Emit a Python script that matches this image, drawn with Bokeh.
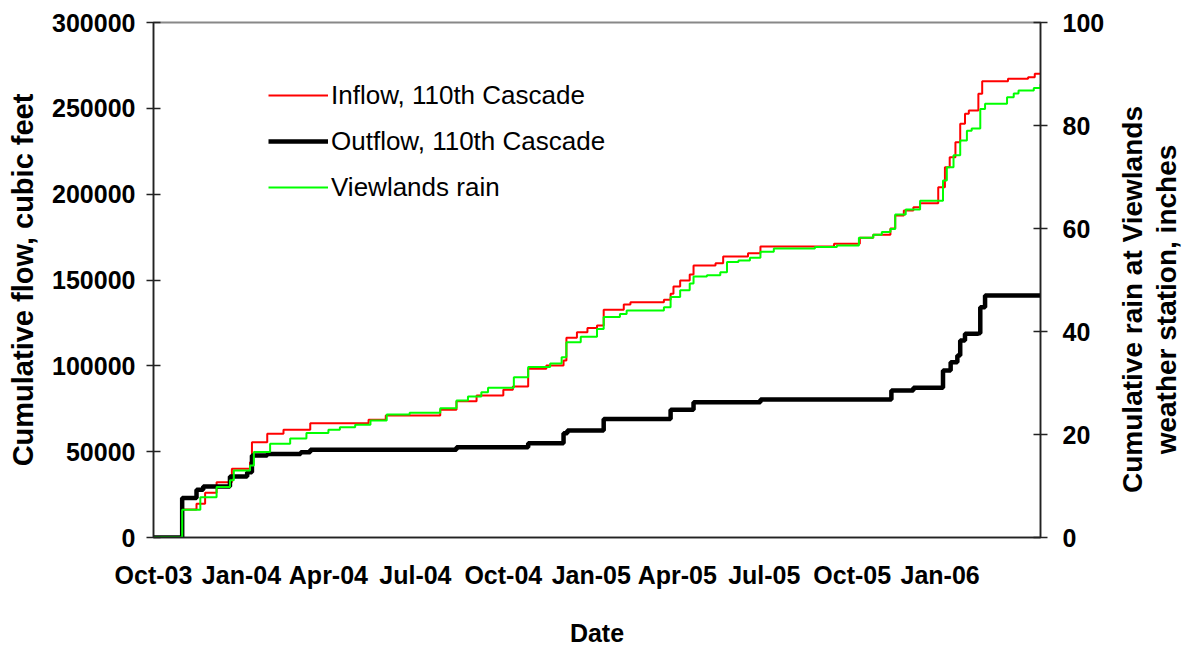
import math
import pandas as pd
from bokeh.plotting import figure
from bokeh.models import (Range1d, LinearAxis, FixedTicker, NumeralTickFormatter,
                          Legend, LegendItem, DatetimeTickFormatter, Label)
from bokeh.embed import file_html
from bokeh.resources import INLINE

# ---------------- data ----------------
x_start = "2003-10-01"
x_end = "2006-04-16"

tick_dates = ["2003-10-01", "2004-01-01", "2004-04-01", "2004-07-01", "2004-10-01",
              "2005-01-01", "2005-04-01", "2005-07-01", "2005-10-01", "2006-01-01"]
tick_labels = ["Oct-03", "Jan-04", "Apr-04", "Jul-04", "Oct-04",
               "Jan-05", "Apr-05", "Jul-05", "Oct-05", "Jan-06"]

flow_ticks = [0, 50000, 100000, 150000, 200000, 250000, 300000]
rain_ticks = [0, 20, 40, 60, 80, 100]

# Inflow, cumulative cubic feet
in_dates = ["2003-10-01", "2003-10-31", "2003-11-15", "2003-11-24", "2003-12-06", "2003-12-22",
            "2004-01-10", "2004-01-12", "2004-01-28", "2004-02-14", "2004-03-13", "2004-05-13",
            "2004-05-31", "2004-07-27", "2004-08-13", "2004-09-03", "2004-10-01", "2004-10-11",
            "2004-10-27", "2004-11-15", "2004-12-03", "2004-12-06", "2004-12-17", "2004-12-28",
            "2005-01-07", "2005-01-14", "2005-02-04", "2005-02-11", "2005-03-18", "2005-03-25",
            "2005-03-28", "2005-04-04", "2005-04-14", "2005-04-18", "2005-05-11", "2005-05-19",
            "2005-06-14", "2005-06-27", "2005-09-12", "2005-10-09", "2005-10-23", "2005-11-10",
            "2005-11-15", "2005-11-24", "2005-12-04", "2005-12-11", "2005-12-30", "2006-01-06",
            "2006-01-11", "2006-01-17", "2006-01-22", "2006-01-27", "2006-01-31", "2006-02-10",
            "2006-02-14", "2006-03-13", "2006-04-03", "2006-04-10", "2006-04-16"]
in_vals = [0, 16300, 19600, 26000, 32200, 40000, 43900, 55500, 60400, 62700,
           66600, 68600, 71100, 74400, 79400, 82700, 86000, 88000, 98300, 100200,
           103100, 116300, 119600, 122100, 123500, 132600, 135700, 137100, 138500, 142000,
           146200, 149700, 153200, 158400, 159800, 163700, 165600, 169500, 171100, 174600,
           176300, 180000, 187600, 190500, 192400, 194700, 204000, 215700, 221500, 230300,
           241000, 246800, 248700, 258500, 265800, 267200, 268100, 270100, 270100]

# Outflow, cumulative cubic feet
out_dates = ["2003-10-01", "2003-10-31", "2003-11-15", "2003-11-22", "2003-12-20", "2004-01-07",
             "2004-01-12", "2004-01-28", "2004-03-03", "2004-03-13", "2004-08-13", "2004-10-27",
             "2004-12-03", "2004-12-07", "2005-01-14", "2005-03-25", "2005-04-18", "2005-06-27",
             "2005-11-11", "2005-12-04", "2006-01-04", "2006-01-12", "2006-01-19", "2006-01-22",
             "2006-01-27", "2006-02-10", "2006-02-12", "2006-02-17", "2006-04-16"]
out_vals = [0, 23000, 27800, 29700, 35500, 38000, 47800, 48700, 49700, 51100,
            52600, 54900, 60800, 62300, 69100, 74400, 78800, 80400, 85600, 87200,
            97300, 102100, 106000, 114800, 118700, 119000, 134100, 141000, 141000]

# Viewlands rain, cumulative inches
rain_dates = ["2003-10-01", "2003-10-31", "2003-11-19", "2003-12-06", "2003-12-20", "2003-12-24",
              "2004-01-10", "2004-01-14", "2004-01-31", "2004-02-21", "2004-03-09", "2004-04-01",
              "2004-04-13", "2004-04-29", "2004-05-15", "2004-06-01", "2004-06-25", "2004-07-27",
              "2004-08-13", "2004-08-25", "2004-09-08", "2004-09-15", "2004-10-12", "2004-10-27",
              "2004-11-19", "2004-12-01", "2004-12-06", "2004-12-21", "2005-01-07", "2005-01-14",
              "2005-01-31", "2005-02-07", "2005-03-18", "2005-03-25", "2005-04-04", "2005-04-14",
              "2005-04-18", "2005-05-02", "2005-05-16", "2005-05-23", "2005-06-04", "2005-06-16",
              "2005-06-27", "2005-07-11", "2005-08-23", "2005-09-15", "2005-10-08", "2005-10-23",
              "2005-11-01", "2005-11-10", "2005-11-15", "2005-11-26", "2005-12-11", "2006-01-04",
              "2006-01-08", "2006-01-15", "2006-01-22", "2006-01-29", "2006-02-03", "2006-02-12",
              "2006-02-17", "2006-03-12", "2006-03-19", "2006-03-24", "2006-04-09", "2006-04-16"]
rain_vals = [0, 5.4, 7.8, 9.8, 11.1, 13.0, 14.0, 16.6, 18.2, 19.2,
             20.3, 20.9, 21.4, 21.9, 22.7, 23.9, 24.2, 25.1, 26.6, 27.4,
             28.2, 29.1, 31.1, 33.1, 33.8, 35.0, 37.9, 39.0, 40.5, 42.8,
             43.4, 44.1, 44.7, 46.7, 48.0, 49.3, 50.7, 50.9, 51.5, 53.5,
             53.8, 54.3, 55.5, 56.1, 56.4, 56.7, 58.2, 58.8, 59.3, 59.9,
             62.7, 63.7, 65.4, 69.3, 71.9, 74.2, 77.1, 79.0, 79.4, 83.2,
             84.2, 85.5, 86.2, 86.8, 87.3, 88.0]

right_title = "Cumulative rain at Viewlands\nweather station, inches"

# ---------------- figure ----------------
FONT = "Liberation Sans"
FW, FH = 887, 515

p = figure(x_axis_type="datetime", output_backend="svg", toolbar_location=None,
           frame_width=FW, frame_height=FH,
           min_border_left=153, min_border_right=142, min_border_top=22, min_border_bottom=108,
           x_range=Range1d(pd.Timestamp(x_start), pd.Timestamp(x_end)),
           y_range=Range1d(0, 300000))
p.extra_y_ranges = {"rain": Range1d(0, 100)}
p.xgrid.visible = False
p.ygrid.visible = False
p.outline_line_color = "#888888"
p.outline_line_width = 2
p.background_fill_color = "white"
p.border_fill_color = "white"

r_in = p.step(x=pd.to_datetime(in_dates), y=in_vals, mode="after",
              line_color="#FF0000", line_width=2)
r_out = p.step(x=pd.to_datetime(out_dates), y=out_vals, mode="after",
               line_color="black", line_width=4.5)
r_rain = p.step(x=pd.to_datetime(rain_dates), y=rain_vals, mode="after",
                line_color="#00FF00", line_width=2, y_range_name="rain")

# x axis
tick_ms = [int(t.value // 10**6) for t in pd.to_datetime(tick_dates)]
xa = p.xaxis[0]
xa.ticker = FixedTicker(ticks=tick_ms)
fmt = "%b-%y"
xa.formatter = DatetimeTickFormatter(milliseconds=fmt, seconds=fmt, minsec=fmt, minutes=fmt,
                                     hourmin=fmt, hours=fmt, days=fmt, months=fmt, years=fmt)
xa.major_label_overrides = {ms: lbl for ms, lbl in zip(tick_ms, tick_labels)}
xa.major_tick_in = 0
xa.major_tick_out = 0
xa.minor_tick_in = 0
xa.minor_tick_out = 0
xa.major_label_standoff = 23
xa.axis_label = "Date"
xa.axis_label_standoff = 27

# left axis
ya = p.yaxis[0]
ya.ticker = FixedTicker(ticks=flow_ticks)
ya.formatter = NumeralTickFormatter(format="0")
ya.major_tick_in = 7
ya.major_tick_out = 7
ya.minor_tick_in = 0
ya.minor_tick_out = 0
ya.major_label_standoff = 11
ya.axis_label = "Cumulative flow, cubic feet"
ya.axis_label_standoff = 10

# right axis (title drawn as a rotated label so it reads bottom-to-top)
ra = LinearAxis(y_range_name="rain", ticker=FixedTicker(ticks=rain_ticks))
ra.major_tick_in = 7
ra.major_tick_out = 7
ra.minor_tick_in = 0
ra.minor_tick_out = 0
ra.major_label_standoff = 15
p.add_layout(ra, "right")

for ax in [xa, ya, ra]:
    ax.axis_line_color = "#222222"
    ax.axis_line_width = 1.5
    ax.major_tick_line_color = "#222222"
    ax.major_tick_line_width = 1.5
    ax.major_label_text_font = FONT
    ax.major_label_text_font_style = "bold"
    ax.major_label_text_font_size = "25px"
    ax.major_label_text_color = "black"
    ax.axis_label_text_font = FONT
    ax.axis_label_text_font_style = "bold"
    ax.axis_label_text_color = "black"
xa.axis_label_text_font_size = "25px"
ya.axis_label_text_font_size = "29px"

p.add_layout(Label(x=42, y=238, x_units="screen", y_units="screen",
                   text=right_title, angle=math.pi / 2, text_align="center",
                   text_baseline="middle", text_font=FONT, text_color="black",
                   text_font_style="bold", text_font_size="28px",
                   text_line_height=1.1), "right")

legend = Legend(items=[LegendItem(label="Inflow, 110th Cascade", renderers=[r_in]),
                       LegendItem(label="Outflow, 110th Cascade", renderers=[r_out]),
                       LegendItem(label="Viewlands rain", renderers=[r_rain])],
                location=(115, 330), orientation="vertical",
                border_line_color=None, background_fill_alpha=0,
                padding=0, margin=0, spacing=6,
                glyph_width=60, glyph_height=40, label_height=40, label_standoff=3,
                label_text_font=FONT, label_text_font_size="26px", label_text_color="black")
p.add_layout(legend)

open("out.html", "w").write(file_html(p, INLINE))
